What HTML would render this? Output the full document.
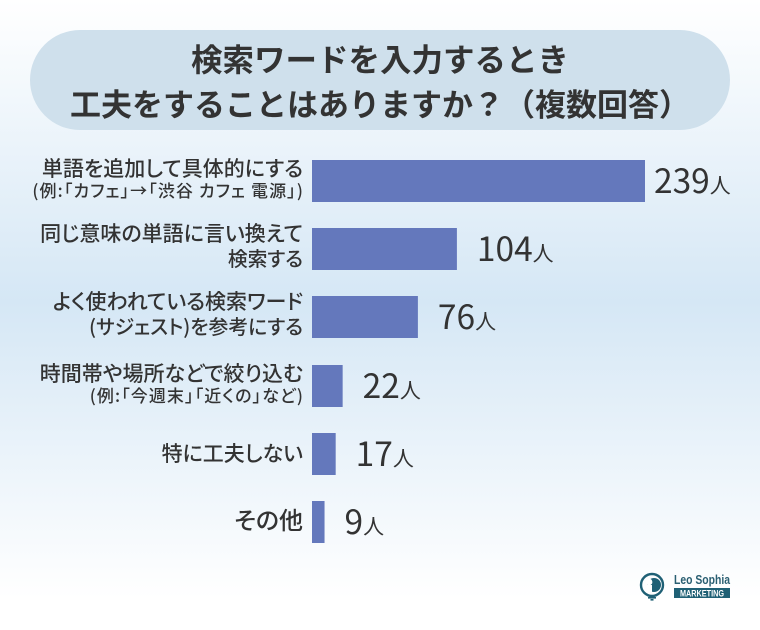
<!DOCTYPE html>
<html lang="ja">
<head>
<meta charset="utf-8">
<title>検索ワードを入力するとき工夫をすることはありますか</title>
<style>
html,body{margin:0;padding:0;background:#fff}
#chart{display:block;width:760px;height:630px}
text{font-family:"Liberation Sans","Noto Sans CJK JP",sans-serif}
.jp{font-family:"Noto Sans CJK JP","Liberation Sans",sans-serif;font-feature-settings:"palt"}
.jp-full{font-family:"Noto Sans CJK JP","Liberation Sans",sans-serif}
</style>
</head>
<body>
<svg id="chart" xmlns="http://www.w3.org/2000/svg" width="760" height="630" viewBox="0 0 760 630">
  <defs>
    <linearGradient id="bg" x1="0" y1="0" x2="0" y2="1">
      <stop offset="0" stop-color="#ffffff"/>
      <stop offset="0.48" stop-color="#d5e7f5"/>
      <stop offset="0.95" stop-color="#ffffff"/>
    </linearGradient>
  </defs>
  <rect width="760" height="630" fill="url(#bg)"/>
  <rect x="30" y="30" width="700" height="100" rx="50" fill="#cfe0ec"/>
  <g>
    <text class="jp-full" x="380" y="71" text-anchor="middle" font-size="31.5" font-weight="700" fill="#333">検索ワードを入力するとき</text>
    <text class="jp-full" x="380" y="116" text-anchor="middle" font-size="31" font-weight="700" fill="#333">工夫をすることはありますか&#xFF1F;&#xFF08;複数回答&#xFF09;</text>
  </g>
  <g id="bars"></g>
  <g id="labels"></g>
  <g id="values"></g>
  <g>
    <circle cx="652" cy="585" r="11" fill="none" stroke="#1f6075" stroke-width="2.4"/>
    <circle cx="654" cy="585" r="7" fill="#1f6075"/>
    <circle cx="649" cy="582" r="3.4" fill="#ffffff"/>
    <rect x="647" y="585" width="5" height="7" fill="#ffffff"/>
    <rect x="648" y="597" width="8" height="1.6" fill="#1f6075"/>
    <rect x="650.5" y="599" width="3" height="1.6" fill="#1f6075"/>
    <text x="674" y="584" font-size="13" font-weight="700" fill="#2a5f72" textLength="56" lengthAdjust="spacingAndGlyphs">Leo Sophia</text>
    <rect x="674" y="588" width="56" height="10" fill="#1f6075"/>
    <text x="680" y="596.5" font-size="9" font-weight="700" fill="#ffffff" textLength="44" lengthAdjust="spacingAndGlyphs">MARKETING</text>
  </g>
</svg>
<script>
const categories = [
  ["単語を追加して具体的にする", "(例:「カフェ」→「渋谷 カフェ 電源」)"],
  ["同じ意味の単語に言い換えて", "検索する"],
  ["よく使われている検索ワード", "(サジェスト)を参考にする"],
  ["時間帯や場所などで絞り込む", "(例:「今週末」「近くの」など)"],
  ["特に工夫しない", ""],
  ["その他", ""]
];
const values = [239, 104, 76, 22, 17, 9];
const unit = "人";

const SVGNS = "http://www.w3.org/2000/svg";
const barLeft = 312;
const barScale = 333 / 239;
const barHeight = 42;
const xScale = function (v) { return v * barScale; };
const yScale = function (i) { return Math.round(160 + 68.2 * i); };

const barsG = document.getElementById("bars");
const labelsG = document.getElementById("labels");
const valuesG = document.getElementById("values");

function makeText(parent, x, y, str, size, anchor, weight) {
  const t = document.createElementNS(SVGNS, "text");
  t.setAttribute("class", "jp");
  t.setAttribute("x", x);
  t.setAttribute("y", y);
  t.setAttribute("font-size", size);
  t.setAttribute("font-weight", weight);
  t.setAttribute("text-anchor", anchor);
  t.setAttribute("fill", "#333333");
  t.textContent = str;
  parent.appendChild(t);
  return t;
}

values.forEach(function (v, i) {
  const top = yScale(i);
  const w = xScale(v);

  const r = document.createElementNS(SVGNS, "rect");
  r.setAttribute("x", barLeft);
  r.setAttribute("y", top);
  r.setAttribute("width", w);
  r.setAttribute("height", barHeight);
  r.setAttribute("fill", "#6478bc");
  
  
  barsG.appendChild(r);

  const lines = categories[i];
  if (lines[1]) {
    const isNote = lines[1].indexOf("例") >= 0;
    const main = makeText(labelsG, 303, top + (isNote ? 16 : 13), lines[0], 21, "end", 500);
    
    
    const sub = makeText(labelsG, isNote ? 304 : 303, top + (isNote ? 37 : 38), lines[1], isNote ? 17 : 19.8, "end", 500);
    if (isNote) {
      sub.setAttribute("letter-spacing", "1.1");
    }
    
    
  } else {
    const single = makeText(labelsG, 303, top + barHeight / 2 + 7, lines[0], lines[0].length < 4 ? 24 : 21, "end", 500);
    
    
  }

  const gap = v > 200 ? 9 : 20;
  const num = makeText(valuesG, barLeft + w + gap, top + 33, String(v), 33.5, "start", 400);
  
  
  const u = document.createElementNS(SVGNS, "tspan");
  u.setAttribute("font-size", "21");
  u.textContent = unit;
  num.appendChild(u);
});
</script>
</body>
</html>
